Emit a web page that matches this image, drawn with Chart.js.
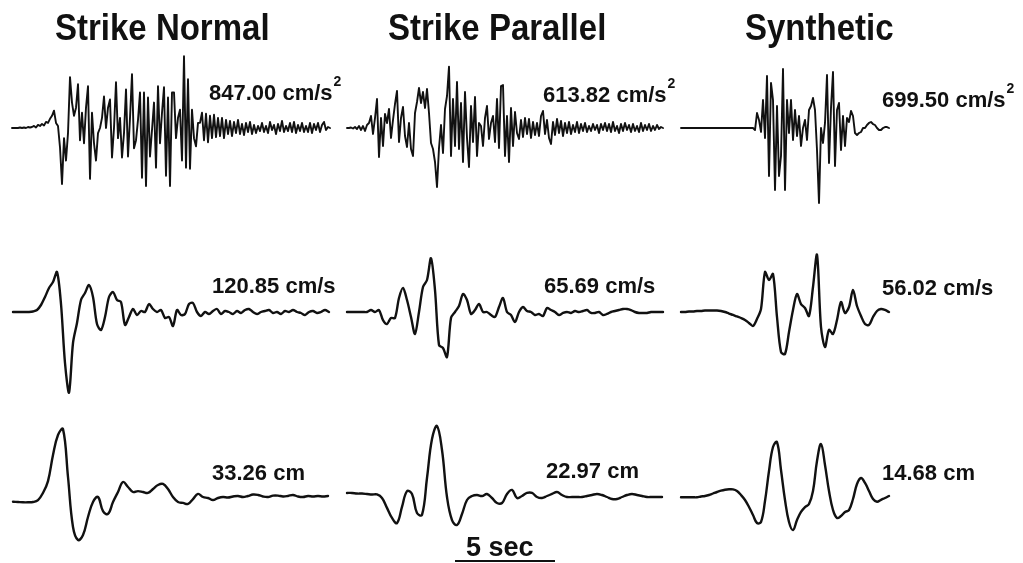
<!DOCTYPE html>
<html>
<head>
<meta charset="utf-8">
<title>Strike Normal / Strike Parallel / Synthetic</title>
<script src="https://cdn.jsdelivr.net/npm/chart.js@4.4.1/dist/chart.umd.min.js"></script>
<style>
  html, body { margin: 0; padding: 0; background: #fff; }
  #wrap { position: relative; width: 1023px; height: 563px; overflow: hidden; background: #fff; }
  #plot { position: absolute; left: 0; top: 0; }
  .txt { position: absolute; font-family: "Liberation Sans", Arial, Helvetica, sans-serif; font-weight: bold;
         color: #111; line-height: 1; white-space: nowrap; }
  .title { font-size: 33px; transform: scaleY(1.1); transform-origin: 0 0; }
  .val { font-size: 22px; }
  .val sup { font-size: 14px; line-height: 0; vertical-align: baseline; position: relative; top: -14px; margin-left: 1px; }
  .bar { font-size: 27px; }
</style>
</head>
<body>
<div id="wrap">
  <canvas id="plot" width="1023" height="563"></canvas>
</div>
<script>
// ---- Ground motion time histories ----
// Accelerations (cm/s^2), one sample every 0.1 s
const accelNormal = [
  0, 0, 0, 0, 6, 0, 6, 0, 12, 6,
  12, 24, 6, 36, 24, 48, 30, 72, 60, 108,
  144, 204, 60, 24, -228, -660, -120, -384, -60, 600,
  300, 144, 240, 516, -144, 180, -180, 240, 492, -600,
  180, -180, -384, -60, 0, 120, 372, 0, 240, 336,
  -348, 0, 540, -120, 120, -348, -60, 456, -336, 120,
  636, -240, -144, 96, 420, -588, 420, -684, 360, -336,
  -24, 300, -468, 492, -180, 180, 480, -564, 360, -684,
  420, 420, -120, 120, 216, -384, 847.00, -468, 576, -480,
  216, -120, -216, 60, 60, 180, -144, 168, -168, 144,
  -120, 156, -108, 120, -96, 120, -120, 96, -72, 84,
  -96, 72, -60, 96, -72, 48, -84, 60, -48, 72,
  -72, 36, -60, 24, -36, 60, -48, 24, -60, 72,
  -24, 36, -72, 48, -36, 84, -48, 24, -36, 60,
  -48, 72, -60, 36, -36, 60, -48, 24, -48, 60,
  -60, 48, -24, 60, -48, 36, 72, -24, 12, 0
];
const accelParallel = [
  0, 0, 5, -5, 10, -10, 20, -20, 20, -30,
  30, 50, 120, -60, 100, 290, -290, 100, -180, 140,
  50, 190, -100, 80, 240, 370, -140, 100, 210, -80,
  -190, 50, -210, -280, 150, 260, 400, 250, 360, 200,
  390, 150, -150, -210, -340, -590, -200, 30, -250, 190,
  320, 613.82, -280, 290, -180, 460, -210, 250, -340, 360,
  -100, -390, 220, -140, 310, -280, 50, 20, -180, 100,
  220, -110, 50, 120, -140, 290, -200, 420, 430, -280,
  120, -340, 200, -180, 160, -50, -110, 80, -90, 100,
  -60, 90, -100, 60, -70, 50, -80, 120, 170, -60,
  80, -100, -160, 60, -70, 90, -50, 70, -80, 50,
  -50, 60, -60, 30, -40, 60, -50, 40, -30, 50,
  -40, 20, -30, 40, -20, 30, -50, 40, -20, 50,
  -30, 40, -40, 60, -30, 20, -50, 40, -30, 50,
  -20, 30, -40, 40, -30, 20, -40, 50, -30, 30,
  -20, 40, -30, 20, -20, 30, -10, 10, 0
];
const accelSynthetic = [
  0, 0, 0, 0, 0, 0, 0, 0, 0, 0,
  0, 0, 0, 0, 0, 0, 0, 0, 0, 0,
  0, 0, 0, 0, 0, 0, 0, 0, 0, 0,
  0, 0, 0, 0, 0, 0,
  0, -19, 140, 75, -37, 261, -93, 485, -448, 420,
  261, -578, 205, -448, -261, 550, -578, 261, -47, 261,
  -112, 168, -75, 112, -168, 0, 75, -112, 168, 205,
  280, 168, -205, -699.50, 0, -140, 47, 494, -327, 187,
  522, -355, 168, 233, -205, 112, -168, 93, 56, 159,
  112, -47, -65, -47, -37, 0, 0, 28, 47, 56,
  37, 28, 0, -19, -19, 0, 9, 9, 0
];

// Velocities (cm/s), one sample every 0.2 s
const velNormal = [
  0, 0, 0, 0, 0, 0.8, 3, 10.5, 22.5, 36,
  45, 60, 12, -76.5, -120.85, -46.5, -16.5, 18, 28.5, 40.5,
  22.5, -18, -27, -7.5, 22.5, 30, 18, 15, -19.5, -7.5,
  4.5, -4.5, 1.5, 0, 12, 4.5, 0, 3, -9, -7.5,
  -21, 3, -4.5, -3, 12, 13.5, 0, -6, 0, -3,
  1.5, 4.5, -3, 1.5, 0, -3, 1.5, -1.5, 3, 4.5,
  0, -3, 0, 1.5, 3, -1.5, 0, -3, 1.5, 0,
  3, 0, -1.5, -4.5, 0, 1.5, -1.5, 0, 3, 0
];
const velParallel = [
  0, 0, 0, 0, 0, 0, 2.4, 0, 2.4, -9.8,
  -14.6, -7.3, -7.3, 17.1, 29.3, 14.6, -6.1, -26.8, 0, 30.5,
  39, 65.69, 26.8, -40.3, -43.9, -54.9, -7.3, 0, 7.3, 22,
  14.6, -2.4, 2.4, 9.8, 0, 0, -3.7, -6.1, 6.1, 17.1,
  0, -3.7, -12.2, 0, 6.1, 1.2, 0, -3.7, -2.4, -4.9,
  4.9, 2.4, 0, -3.7, -1.2, 0, -1.2, 1.2, 0, 1.2,
  2.4, -1.2, -1.2, 0, -3.7, -2.4, 0, 1.2, 2.4, 3.7,
  3.7, 2.4, 0, -1.2, -1.2, -1.2, 0, 0, 0, 0
];
const velSynthetic = [
  0, 0, 0.5, 0.5, 1, 1, 1.5, 1.5, 1.5, 1.5,
  1, 0, -1.5, -2.9, -4.4, -5.9, -7.8, -10.8, -13.7, -6.9,
  2.9, 39.2, 31.4, 37.2, -4.9, -39.2, -41.2, -19.6, 2, 17.6,
  7.8, 3.9, -3.9, 24.5, 56.02, -14.7, -34.3, -17.6, -21.6, -7.8,
  9.8, -1, 4.9, 21.6, 5.9, -3.9, -11.8, -12.7, -4.9, 1,
  2.9, 2, 0
];

// Displacements (cm); 0.25 s sampling for the records, 0.2 s for the synthetic
const dispNormal = [
  -2.3, -2.45, -2.6, -2.6, -2.45, -1.5, 2, 7.8, 20.6, 30.4,
  33.26, 9.8, -14.7, -21.1, -18.6, -9.8, -2.45, 0, -6.9, -8.3,
  -2.45, 2.45, 7.35, 4.9, 2.45, 2.9, 2.45, 2, 3.9, 5.9,
  6.4, 3.9, 0, -2.45, -2.9, -3.4, -1, 1.5, 0, -0.5,
  -1.5, -0.5, 0, -0.25, 0.25, 0.5, 0, 0.5, 1.2, 1,
  0.25, 0, 0.7, 0.7, 0.25, 0.5, 1, 0.25, 0, 0.5,
  0.25, 0.5, 0.25, 0.5
];
const dispParallel = [
  1, 1, 0.8, 0.8, 0.66, 0.5, 0.5, -0.66, -3.9, -7.2,
  -8.9, -3.6, 1.6, 0.66, -5.6, -6.2, 5.9, 18.7, 22.97, 15.1,
  -0.33, -7.9, -9.5, -5.9, -1.3, 0, 0.33, 0, 0.66, -0.66,
  -2.3, -2.3, 0.66, 2, -0.66, 0, 1, 1, -0.33, -0.66,
  0, 0.66, 1.3, 0.33, -0.33, -0.33, -0.33, -0.33, 0, 0.33,
  0.66, 0.33, -0.33, -1, -1, -0.33, 0.33, 0.66, 0.33, 0,
  -0.33, -0.33, -0.33, -0.33
];
const dispSynthetic = [
  -0.35, -0.35, -0.35, -0.35, -0.35, -0.14, 0, 0.27, 0.68, 1.09,
  1.44, 1.69, 1.82, 1.8, 1.36, 0.27, -1.09, -3, -5.17, -7.34,
  -7.07, -1.36, 6.8, 13.33, 14.68, 7.07, -1.09, -7.07, -9.25, -6.53,
  -4.35, -3, -2.18, 1.36, 9.52, 14.14, 8.43, 1.36, -3.81, -5.98,
  -5.44, -4.35, -3.81, -0.82, 3.26, 4.9, 3.54, 1.36, -0.82, -1.55,
  -1.03, -0.54, 0
];

const columnTitles = ['Strike Normal', 'Strike Parallel', 'Synthetic'];
const rowUnits = ['cm/s<sup>2</sup>', 'cm/s', 'cm'];
const scaleBarSeconds = 5;

// ---- Page layout (pixels) ----
const W = 1023, H = 563;
const PX_PER_SEC = 20;
const titleSpots = [[55, 9], [388, 9], [745, 9]];

// one entry per trace: sampling, left edge, zero line, vertical units per pixel, label spot
const panels = [
  { series: accelNormal,    dt: 0.1,  left: 12,  base: 128, perPx: 11.8,  lw: 1.9, tension: 0,    row: 0, label: [209, 82] },
  { series: accelParallel,  dt: 0.1,  left: 347, base: 128, perPx: 10.0,  lw: 1.9, tension: 0,    row: 0, label: [543, 84] },
  { series: accelSynthetic, dt: 0.1,  left: 681, base: 128, perPx: 9.33,  lw: 1.9, tension: 0,    row: 0, label: [882, 89] },
  { series: velNormal,      dt: 0.2,  left: 13,  base: 312, perPx: 1.5,   lw: 2.4, tension: 0.3,  row: 1, label: [212, 275] },
  { series: velParallel,    dt: 0.2,  left: 347, base: 312, perPx: 1.22,  lw: 2.4, tension: 0.3,  row: 1, label: [544, 275] },
  { series: velSynthetic,   dt: 0.2,  left: 681, base: 312, perPx: 0.98,  lw: 2.4, tension: 0.3,  row: 1, label: [882, 277] },
  { series: dispNormal,     dt: 0.25, left: 13,  base: 497, perPx: 0.49,  lw: 2.4, tension: 0.4,  row: 2, label: [212, 462] },
  { series: dispParallel,   dt: 0.25, left: 347, base: 496, perPx: 0.328, lw: 2.4, tension: 0.4,  row: 2, label: [546, 460] },
  { series: dispSynthetic,  dt: 0.2,  left: 681, base: 496, perPx: 0.272, lw: 2.4, tension: 0.4,  row: 2, label: [882, 462] }
];
// 5 s bar drawn on the time axis of the strike-parallel displacement trace
const scaleBar = { panel: 7, from: 5.4, y: 561, label: [466, 534] };

// ---- Chart ----
const scales = {};
const datasets = panels.map((p, k) => {
  scales['x' + k] = { type: 'linear', display: false, bounds: 'data',
                      min: -p.left / PX_PER_SEC, max: (W - p.left) / PX_PER_SEC };
  scales['y' + k] = { type: 'linear', display: false, bounds: 'data',
                      min: -(H - p.base) * p.perPx, max: p.base * p.perPx };
  return {
    data: p.series.map((v, i) => ({ x: i * p.dt, y: v })),
    xAxisID: 'x' + k,
    yAxisID: 'y' + k,
    borderColor: '#111',
    borderWidth: p.lw,
    borderJoinStyle: 'round',
    borderCapStyle: 'round',
    pointRadius: 0,
    fill: false,
    tension: p.tension
  };
});

const scaleBarPlugin = {
  id: 'scaleBar',
  afterDatasetsDraw(chart) {
    const sx = chart.scales['x' + scaleBar.panel];
    const x1 = sx.getPixelForValue(scaleBar.from);
    const x2 = sx.getPixelForValue(scaleBar.from + scaleBarSeconds);
    const ctx = chart.ctx;
    ctx.save();
    ctx.strokeStyle = '#111';
    ctx.lineWidth = 2.2;
    ctx.beginPath();
    ctx.moveTo(x1, scaleBar.y);
    ctx.lineTo(x2, scaleBar.y);
    ctx.stroke();
    ctx.restore();
  }
};

new Chart(document.getElementById('plot'), {
  type: 'line',
  data: { datasets },
  options: {
    responsive: false,
    animation: false,
    devicePixelRatio: 1,
    layout: { padding: 0 },
    parsing: true,
    normalized: true,
    plugins: { legend: { display: false }, tooltip: { enabled: false }, title: { display: false } },
    events: [],
    scales
  },
  plugins: [scaleBarPlugin]
});

// ---- Text ----
const wrap = document.getElementById('wrap');
function addText(cls, html, x, y) {
  const d = document.createElement('div');
  d.className = 'txt ' + cls;
  d.style.left = x + 'px';
  d.style.top = y + 'px';
  d.innerHTML = html;
  wrap.appendChild(d);
}
columnTitles.forEach((t, i) => addText('title', t, titleSpots[i][0], titleSpots[i][1]));
panels.forEach(p => {
  const peak = Math.max(...p.series.map(Math.abs));
  addText('val', peak.toFixed(2) + ' ' + rowUnits[p.row], p.label[0], p.label[1]);
});
addText('bar', scaleBarSeconds + ' sec', scaleBar.label[0], scaleBar.label[1]);
</script>
</body>
</html>
